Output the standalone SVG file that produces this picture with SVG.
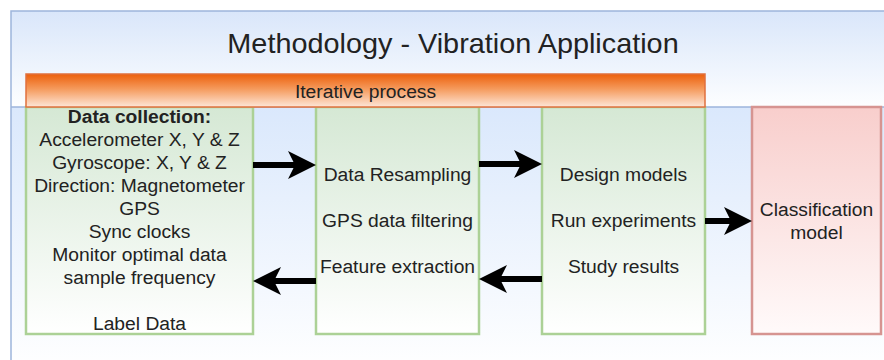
<svg xmlns="http://www.w3.org/2000/svg" width="884" height="360" viewBox="0 0 884 360">
  <defs>
    <style>
      .lbl { font-family: "Liberation Sans", Arial, Helvetica, sans-serif; font-size: 18px; fill: #222; text-anchor: middle; }
      .bold { font-weight: bold; }
      .title { font-family: "Liberation Sans", Arial, Helvetica, sans-serif; font-size: 28px; fill: #222; text-anchor: middle; }
      .green { fill: url(#gGreen); stroke: #acd196; stroke-width: 2.5; }
      .red { fill: url(#gRed); stroke: #d69491; stroke-width: 2.5; }
      .conn { fill: none; stroke: #000; stroke-width: 6; marker-end: url(#arrow); }
    </style>
    <linearGradient id="gHeader" x1="0" y1="0" x2="0" y2="1">
      <stop offset="0" stop-color="#d9e6fa"/>
      <stop offset="1" stop-color="#fdfeff"/>
    </linearGradient>
    <linearGradient id="gBody" x1="0" y1="0" x2="0" y2="1">
      <stop offset="0" stop-color="#dae8fc"/>
      <stop offset="1" stop-color="#ffffff"/>
    </linearGradient>
    <linearGradient id="gOrange" x1="0" y1="0" x2="0" y2="1">
      <stop offset="0" stop-color="#ec600c"/>
      <stop offset="0.45" stop-color="#f59a5c"/>
      <stop offset="1" stop-color="#fde6d8"/>
    </linearGradient>
    <linearGradient id="gGreen" x1="0" y1="0" x2="0" y2="1">
      <stop offset="0" stop-color="#d5e8d4"/>
      <stop offset="1" stop-color="#ffffff"/>
    </linearGradient>
    <linearGradient id="gRed" x1="0" y1="0" x2="0" y2="1">
      <stop offset="0" stop-color="#f8cecc"/>
      <stop offset="1" stop-color="#fffafa"/>
    </linearGradient>
    <marker id="arrow" markerUnits="userSpaceOnUse" viewBox="0 0 28 28" markerWidth="28" markerHeight="28" refX="7" refY="14" orient="auto">
      <path d="M0,0 L28,14 L0,28 L7,14 Z" fill="#000"/>
    </marker>
  </defs>

  <rect width="884" height="360" fill="#ffffff"/>

  <!-- swimlane container -->
  <g id="container">
    <rect x="11" y="11" width="884" height="96" fill="url(#gHeader)"/>
    <rect x="11" y="107" width="884" height="263" fill="url(#gBody)"/>
    <rect x="11" y="11" width="884" height="359" fill="none" stroke="#9db5dc" stroke-width="1.5"/>
    <line x1="11" y1="107" x2="895" y2="107" stroke="#9db5dc" stroke-width="1.5"/>
    <g transform="translate(453 0) scale(1.03 1)">
      <text class="title" x="0" y="53">Methodology - Vibration Application</text>
    </g>
  </g>

  <g id="data-collection">
    <rect class="green" x="26" y="107" width="227" height="227"/>
    <g transform="translate(139.5 0) scale(1.07 1)">
      <text class="lbl bold" x="0" y="123">Data collection:</text>
      <text class="lbl" x="0" y="146">Accelerometer X, Y &amp; Z</text>
      <text class="lbl" x="0" y="169">Gyroscope: X, Y &amp; Z</text>
      <text class="lbl" x="0" y="192">Direction: Magnetometer</text>
      <text class="lbl" x="0" y="215">GPS</text>
      <text class="lbl" x="0" y="238">Sync clocks</text>
      <text class="lbl" x="0" y="261">Monitor optimal data</text>
      <text class="lbl" x="0" y="284">sample frequency</text>
      <text class="lbl" x="0" y="330">Label Data</text>
    </g>
  </g>

  <g id="preprocessing">
    <rect class="green" x="316" y="107" width="163" height="227"/>
    <g transform="translate(397.5 0) scale(1.07 1)">
      <text class="lbl" x="0" y="181">Data Resampling</text>
      <text class="lbl" x="0" y="227">GPS data filtering</text>
      <text class="lbl" x="0" y="273">Feature extraction</text>
    </g>
  </g>

  <g id="modelling">
    <rect class="green" x="542" y="107" width="163" height="227"/>
    <g transform="translate(623.5 0) scale(1.07 1)">
      <text class="lbl" x="0" y="181">Design models</text>
      <text class="lbl" x="0" y="227">Run experiments</text>
      <text class="lbl" x="0" y="273">Study results</text>
    </g>
  </g>

  <g id="classification-model">
    <rect class="red" x="752" y="107" width="129" height="227"/>
    <g transform="translate(816.5 0) scale(1.07 1)">
      <text class="lbl" x="0" y="216">Classification</text>
      <text class="lbl" x="0" y="239">model</text>
    </g>
  </g>

  <!-- banner spanning the iterative stages -->
  <g id="iterative-process">
    <rect x="26" y="74" width="679" height="33" fill="url(#gOrange)" stroke="#e0703e" stroke-width="1.5"/>
    <g transform="translate(365.5 0) scale(1.07 1)">
      <text class="lbl" x="0" y="98">Iterative process</text>
    </g>
  </g>

  <g id="connectors">
    <path class="conn" d="M253,165 H295"/>
    <path class="conn" d="M479,164 H521"/>
    <path class="conn" d="M705,221 H731"/>
    <path class="conn" d="M542,279 H500"/>
    <path class="conn" d="M316,281 H274"/>
  </g>
</svg>
